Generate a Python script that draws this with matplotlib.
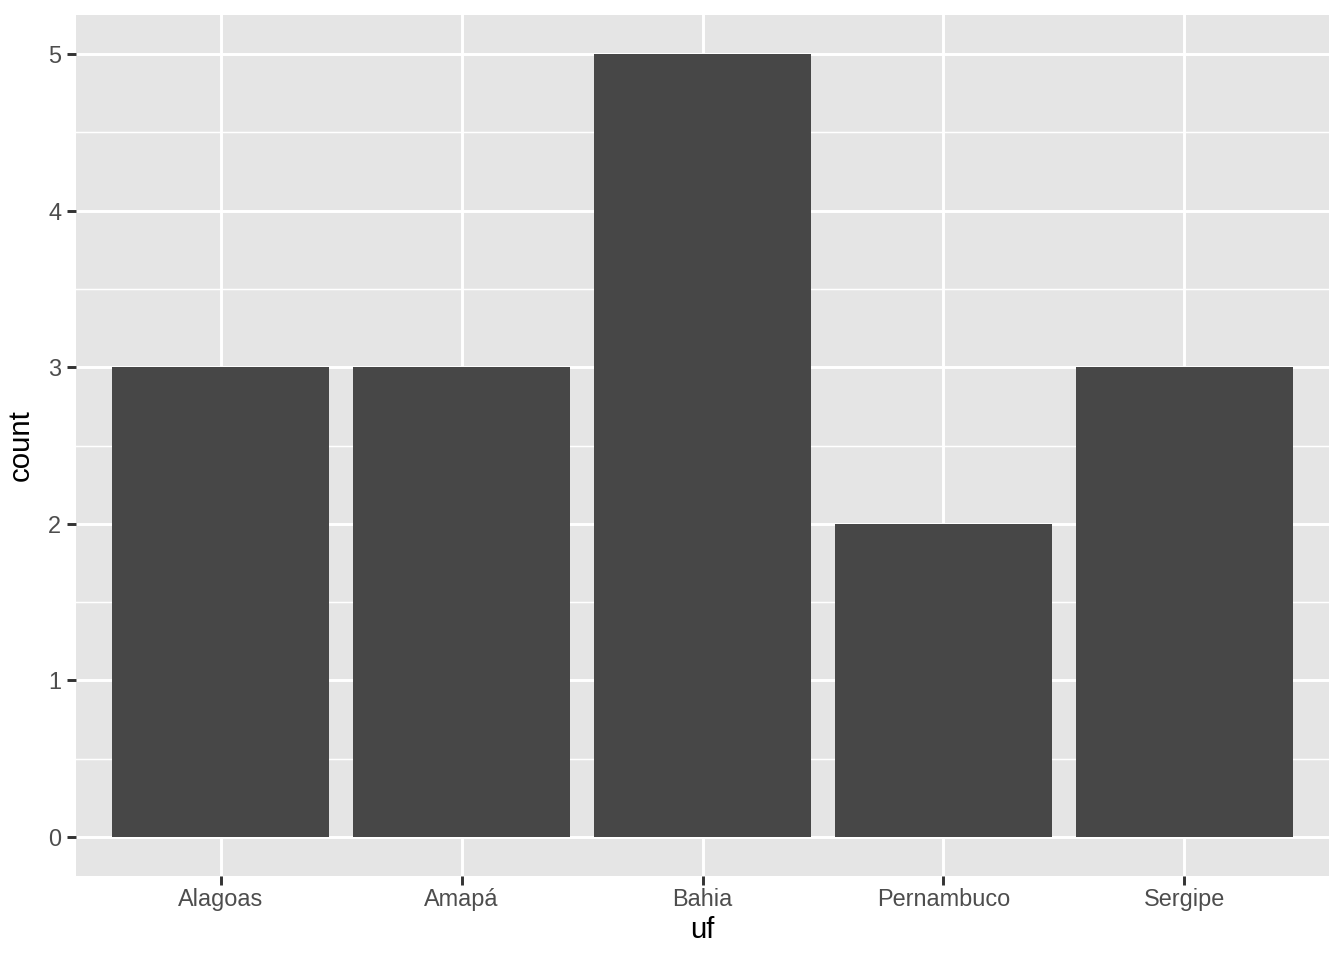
import matplotlib
matplotlib.use("Agg")
import matplotlib.pyplot as plt
import numpy as np

categories = ["Alagoas", "Amapá", "Bahia", "Pernambuco", "Sergipe"]
counts = [3, 3, 5, 2, 3]
y_ticks = [0, 1, 2, 3, 4, 5]

plt.rcParams['font.family'] = ['Liberation Sans', 'DejaVu Sans']

fig = plt.figure(figsize=(7, 5), dpi=192)
ax = fig.add_axes([76/1344, 1-876/960, (1329-76)/1344, (876-15)/960])
ax.set_facecolor('#E5E5E5')

x = np.arange(1, len(categories) + 1)
ax.bar(x, counts, width=0.9, color='#474747', zorder=3)

ax.set_xlim(0.4, len(categories) + 0.6)
ax.set_ylim(-0.25, 5.25)
ax.set_xticks(x)
ax.set_xticklabels(categories)
ax.set_yticks(y_ticks)
ax.set_yticks(np.arange(0.5, 5.5, 1.0), minor=True)

ax.grid(which='major', color='white', linewidth=1.1, zorder=1)
ax.grid(which='minor', axis='y', color='white', linewidth=0.55, zorder=1)
ax.set_axisbelow(True)

for s in ax.spines.values():
    s.set_visible(False)

ax.tick_params(axis='both', which='major', length=3.5, width=1.1, color='#333333',
               labelcolor='#4D4D4D', labelsize=8.8, pad=2.0)
ax.tick_params(axis='x', which='major', pad=1.0)
ax.tick_params(axis='both', which='minor', length=0)

ax.set_xlabel('uf', fontsize=11, color='black', labelpad=2)
ax.set_ylabel('count', fontsize=11, color='black', labelpad=5)

fig.savefig('out.png', dpi=192, facecolor='white')
